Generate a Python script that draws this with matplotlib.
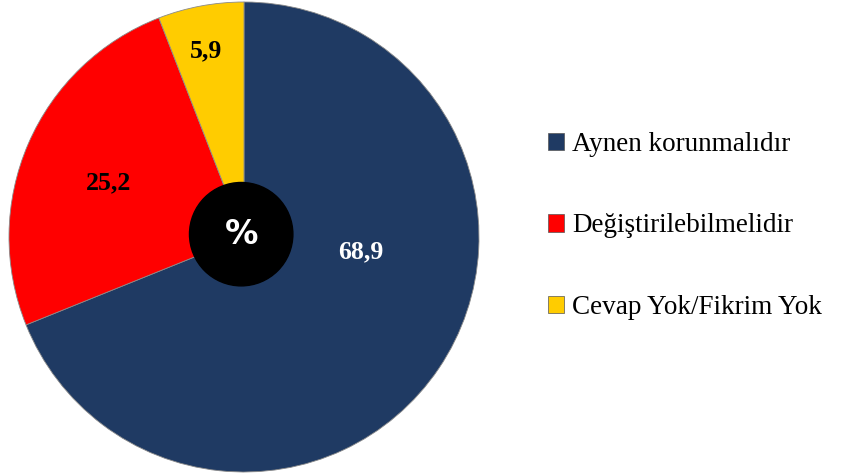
import numpy as np
import matplotlib
matplotlib.use("Agg")
import matplotlib.pyplot as plt
from matplotlib.patches import Circle, Patch

labels = ['Aynen korunmalıdır', 'Değiştirilebilmelidir', 'Cevap Yok/Fikrim Yok']
values = [68.9, 25.2, 5.9]
colors = ['#1F3A63', '#FF0000', '#FFCC00']
value_text = ['68,9', '25,2', '5,9']

plt.rcParams['font.family'] = ['Liberation Serif', 'DejaVu Serif']

fig = plt.figure(figsize=(8.5, 4.75), dpi=100)
ax = fig.add_axes([8/850, 3/475, 472/850, 470/475])

wedges, _ = ax.pie(values, colors=colors, startangle=90, counterclock=False,
                   radius=1, wedgeprops=dict(edgecolor='#8a8a8a', linewidth=0.6))
ax.set_xlim(-1.0, 1.0)
ax.set_ylim(-1.0, 1.0)
ax.set_aspect('equal')
ax.axis('off')

# label placement (angle in degrees, distance from centre)
label_pos = [(-7, 0.50), (158, 0.62), (101.5, 0.81)]
txt_colors = ['white', 'black', 'black']
for (ang, r), t, c in zip(label_pos, value_text, txt_colors):
    a = np.deg2rad(ang)
    ax.text(r*np.cos(a), r*np.sin(a), t, ha='center', va='center',
            fontsize=18.5, fontweight='bold', color=c)

# black centre disc with %
ax.add_patch(Circle((-0.012, 0.012), 0.22, color='black', zorder=5))
ax.text(-0.012, 0.012, '%', ha='center', va='center', color='white',
        fontsize=24, fontweight='bold', family='DejaVu Sans', zorder=6)

handles = [Patch(facecolor=c, edgecolor='#555555', linewidth=0.5) for c in colors]
fig.legend(handles, labels, loc='center left', bbox_to_anchor=(548/850, 1 - 226/475),
           frameon=False, fontsize=19.5, handlelength=0.6, handleheight=0.6,
           handletextpad=0.3, labelspacing=2.08, borderpad=0, borderaxespad=0)

fig.savefig('out.png', dpi=100)
